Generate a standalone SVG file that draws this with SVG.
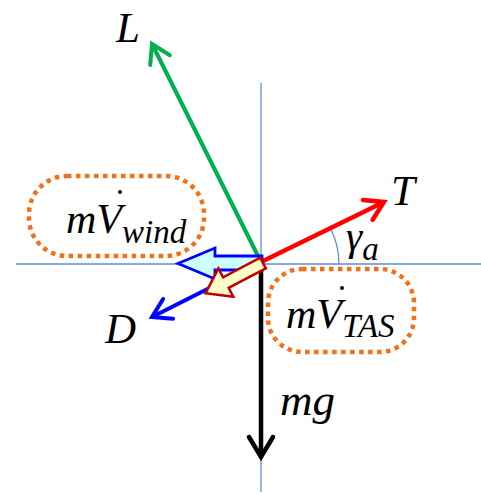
<svg xmlns="http://www.w3.org/2000/svg" width="481" height="494" viewBox="0 0 481 494">
<style>
.lbl{font-family:"Liberation Serif","Times New Roman",serif;font-style:italic;fill:#000}
.axis{stroke:#5b8fd6;stroke-width:1.3;fill:none}
.box{fill:none;stroke:#f27118;stroke-width:4.5;stroke-dasharray:4.5 4.5}
</style>
<defs>
<marker id="hg" markerUnits="userSpaceOnUse" markerWidth="40" markerHeight="40" refX="0" refY="0" viewBox="-25 -20 40 40" orient="auto" overflow="visible"><path d="M-18,-11 L0,0 L-18,11" fill="none" stroke="#00b050" stroke-width="4" stroke-linecap="round" stroke-linejoin="miter"/></marker>
<marker id="hr" markerUnits="userSpaceOnUse" markerWidth="40" markerHeight="40" refX="0" refY="0" viewBox="-25 -20 40 40" orient="auto" overflow="visible"><path d="M-18,-11 L0,0 L-18,11" fill="none" stroke="#ff0000" stroke-width="4.5" stroke-linecap="round"/></marker>
<marker id="hb" markerUnits="userSpaceOnUse" markerWidth="40" markerHeight="40" refX="0" refY="0" viewBox="-25 -20 40 40" orient="auto" overflow="visible"><path d="M-18,-11 L0,0 L-18,11" fill="none" stroke="#0000ff" stroke-width="4" stroke-linecap="round"/></marker>
<marker id="hk" markerUnits="userSpaceOnUse" markerWidth="40" markerHeight="40" refX="0" refY="0" viewBox="-25 -20 40 40" orient="auto" overflow="visible"><path d="M-20,-12 L0,0 L-20,12" fill="none" stroke="#000" stroke-width="4.5" stroke-linecap="round"/></marker>
</defs>
<g id="axes">
<line class="axis" x1="261" y1="83" x2="261" y2="492"/>
<line class="axis" x1="16" y1="264" x2="481" y2="264"/>
<path class="axis" d="M339,264 A78,78 0 0 0 331,229.5"/>
</g>
<g id="connectors">
<line x1="261" y1="262" x2="152" y2="44" stroke="#00b050" stroke-width="4" marker-end="url(#hg)"/>
<line x1="261" y1="262" x2="384" y2="202" stroke="#ff0000" stroke-width="4.5" marker-end="url(#hr)"/>
<line x1="261" y1="262" x2="152" y2="317" stroke="#0000ff" stroke-width="4" marker-end="url(#hb)"/>
<line x1="261" y1="262" x2="261" y2="457" stroke="#000" stroke-width="4.5" marker-end="url(#hk)"/>
</g>
<g id="wind-arrow">
<polygon points="262,256 215,256 215,248 178,263.5 215,279 215,270 262,270" fill="#ccffff" stroke="#0000ff" stroke-width="2.8" stroke-linejoin="miter"/>
</g>
<g id="tas-arrow">
<polygon transform="translate(263,263) rotate(152.2)" points="0,-6 42,-6 42,-16 65,0 42,16 42,6 0,6" fill="#ffffcc" stroke="#c00000" stroke-width="2.5"/>
</g>
<g id="wind-node">
<rect class="box" x="29" y="176" width="175" height="80" rx="38" ry="38"/>
<text class="lbl" x="66" y="233" font-size="42">m<tspan>V</tspan><tspan font-size="33" dy="10">wind</tspan></text>
<circle cx="120" cy="192" r="2" fill="#000"/>
</g>
<g id="tas-node">
<rect class="box" x="268" y="269" width="146" height="83" rx="34" ry="34"/>
<text class="lbl" x="286" y="328" font-size="42">mV<tspan font-size="33" dy="9">TAS</tspan></text>
<circle cx="342" cy="288" r="2" fill="#000"/>
</g>
<g id="labels">
<text class="lbl" x="116" y="42" font-size="43">L</text>
<text class="lbl" x="391" y="205" font-size="43">T</text>
<text class="lbl" x="105" y="343" font-size="43">D</text>
<text class="lbl" x="280" y="415" font-size="45">mg</text>
<text class="lbl" x="346" y="250" font-size="41">γ<tspan font-size="33" dy="10">a</tspan></text>
</g>
</svg>
